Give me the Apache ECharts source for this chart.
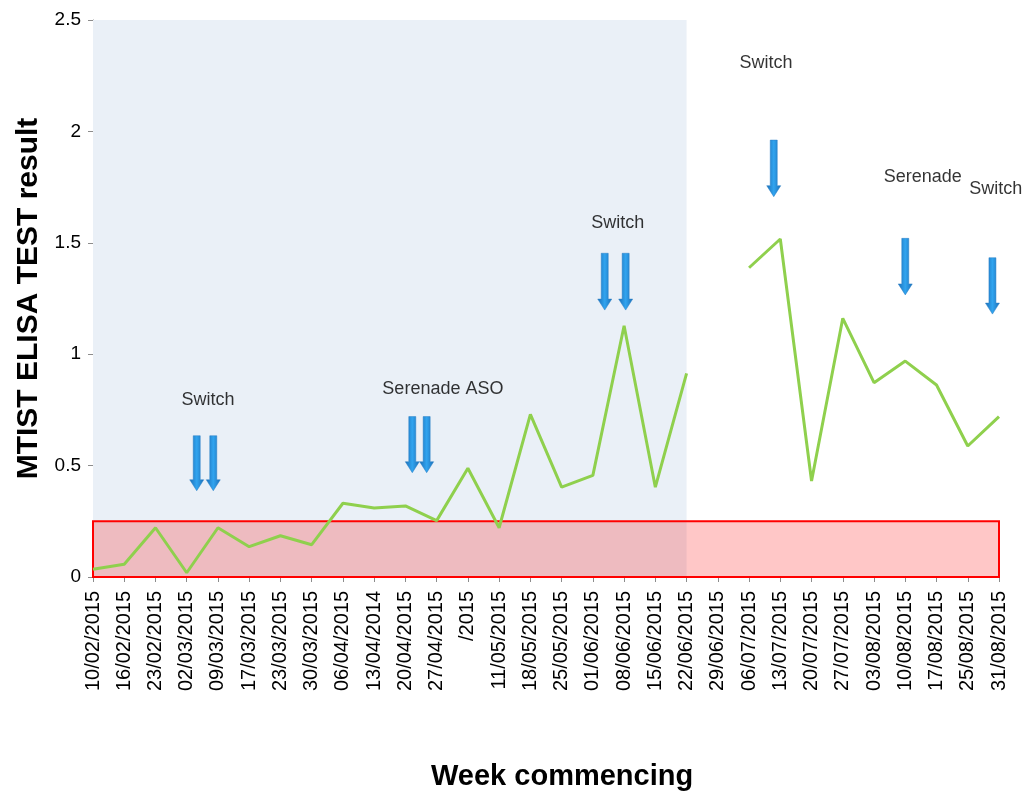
<!DOCTYPE html>
<html lang="en">
<head>
    <meta charset="UTF-8">
    <title>MTIST ELISA TEST result</title>
    <script src="https://cdn.jsdelivr.net/npm/echarts@6/dist/echarts.min.js"></script>
    <style>
        html, body { margin: 0; padding: 0; background: #fff; }
    </style>
</head>
<body>
<div id="box" style="width: 1025px;height: 791px;"></div>

<script>
    // week labels on the x axis
    var weeks = ["10/02/2015", "16/02/2015", "23/02/2015", "02/03/2015", "09/03/2015", "17/03/2015",
        "23/03/2015", "30/03/2015", "06/04/2015", "13/04/2014", "20/04/2015", "27/04/2015", "/2015",
        "11/05/2015", "18/05/2015", "25/05/2015", "01/06/2015", "08/06/2015", "15/06/2015", "22/06/2015",
        "29/06/2015", "06/07/2015", "13/07/2015", "20/07/2015", "27/07/2015", "03/08/2015", "10/08/2015",
        "17/08/2015", "25/08/2015", "31/08/2015"];
    // test results, null = no sample that week
    var results = [0.035, 0.057, 0.221, 0.019, 0.221, 0.136, 0.185, 0.145, 0.331, 0.31, 0.319, 0.253,
        0.488, 0.221, 0.73, 0.403, 0.456, 1.128, 0.403, 0.914, null, 1.388, 1.517, 0.431, 1.161,
        0.872, 0.969, 0.862, 0.588, 0.72];
    var yTicks = [0, 0.5, 1, 1.5, 2, 2.5];

    // shaded period (week index) and threshold band
    var shadedWeeks = [0, 19];
    var thresholdBand = [0, 0.25];

    // arrows: week position, top value, tip value
    var arrowX = [3.32, 3.85, 10.22, 10.68, 16.38, 17.05, 21.79, 26.0, 28.79];
    var arrowTop = [0.634, 0.634, 0.72, 0.72, 1.453, 1.453, 1.961, 1.52, 1.433];
    var arrowTip = [0.387, 0.387, 0.468, 0.468, 1.198, 1.198, 1.707, 1.266, 1.18];

    // notes above the arrows
    var noteText = ["Switch", "Serenade ASO", "Switch", "Switch", "Serenade", "Switch"];
    var noteX = [3.68, 11.2, 16.8, 21.54, 26.56, 28.9];
    var noteY = [0.794, 0.844, 1.589, 2.307, 1.795, 1.741];

    var font = "'Liberation Sans', Arial, sans-serif";

    var lineData = results.map(function (v, i) { return [i, v == null ? '-' : v]; });
    var arrowData = arrowX.map(function (x, i) { return [x, arrowTop[i], arrowTip[i]]; });
    var noteData = noteX.map(function (x, i) { return { name: noteText[i], value: [x, noteY[i]] }; });

    var myChart = echarts.init(document.getElementById("box"));
    var option = {
        animation: false,
        backgroundColor: '#ffffff',
        textStyle: { fontFamily: font },
        title: {
            text: 'Week commencing',
            left: 426,
            top: 757,
            textStyle: { fontFamily: font, fontSize: 29, fontWeight: 'bold', color: '#000' }
        },
        grid: { left: 93, right: 26, top: 20, bottom: 214, outerBoundsMode: 'none', containLabel: false },
        xAxis: {
            type: 'value',
            min: 0,
            max: weeks.length - 1,
            interval: 1,
            splitLine: { show: false },
            axisLine: { show: true, lineStyle: { color: '#8c8c8c', width: 1 } },
            axisTick: { show: true, length: 5, lineStyle: { color: '#8c8c8c' } },
            axisLabel: {
                rotate: 90,
                margin: 14,
                fontSize: 20,
                color: '#000',
                fontFamily: font,
                showMinLabel: true,
                showMaxLabel: true,
                formatter: function (v) { return weeks[v] || ''; }
            }
        },
        yAxis: {
            type: 'value',
            min: yTicks[0],
            max: yTicks[yTicks.length - 1],
            interval: 0.5,
            name: 'MTIST ELISA TEST result',
            nameLocation: 'middle',
            nameGap: 47,
            nameTextStyle: { fontFamily: font, fontSize: 30, fontWeight: 'bold', color: '#000' },
            splitLine: { show: false },
            axisLine: { show: true, lineStyle: { color: '#8c8c8c', width: 1 } },
            axisTick: { show: true, length: 5, lineStyle: { color: '#8c8c8c' } },
            axisLabel: { fontSize: 19, color: '#000', fontFamily: font, margin: 12 }
        },
        series: [
            {
                // blue shaded period, under the line
                type: 'line',
                data: [],
                z: 1,
                silent: true,
                markArea: {
                    silent: true,
                    itemStyle: { color: '#eaf0f7' },
                    data: [[{ xAxis: shadedWeeks[0], yAxis: yTicks[0] },
                        { xAxis: shadedWeeks[1], yAxis: yTicks[yTicks.length - 1] }]]
                }
            },
            {
                name: 'MTIST',
                type: 'line',
                data: lineData,
                z: 2,
                showSymbol: false,
                connectNulls: false,
                lineStyle: { color: '#8fd04d', width: 3 },
                itemStyle: { color: '#8fd04d' }
            },
            {
                // red threshold band, over the line
                type: 'line',
                data: [],
                z: 5,
                silent: true,
                markArea: {
                    silent: true,
                    itemStyle: {
                        color: 'rgba(255, 0, 0, 0.22)',
                        borderColor: '#ff0000',
                        borderWidth: 2
                    },
                    data: [[{ xAxis: 0, yAxis: thresholdBand[0] },
                        { xAxis: weeks.length - 1, yAxis: thresholdBand[1] }]]
                }
            },
            {
                // arrows
                type: 'custom',
                z: 6,
                silent: true,
                data: arrowData,
                renderItem: function (params, api) {
                    var top = api.coord([api.value(0), api.value(1)]);
                    var tip = api.coord([api.value(0), api.value(2)]);
                    var x = top[0];
                    var hw = 3.5, headW = 7, headH = 11;
                    var yh = tip[1] - headH;
                    return {
                        type: 'polygon',
                        shape: {
                            points: [[x - hw, top[1]], [x + hw, top[1]], [x + hw, yh], [x + headW, yh],
                                [x, tip[1]], [x - headW, yh], [x - hw, yh]]
                        },
                        style: {
                            fill: new echarts.graphic.LinearGradient(0, 0, 1, 0, [
                                { offset: 0, color: '#1b6fb8' },
                                { offset: 0.5, color: '#31a4ef' },
                                { offset: 1, color: '#1b6fb8' }
                            ]),
                            stroke: '#2a7fc4',
                            lineWidth: 0.5
                        }
                    };
                }
            },
            {
                // notes
                type: 'scatter',
                z: 7,
                silent: true,
                symbolSize: 0,
                data: noteData,
                label: {
                    show: true,
                    position: 'inside',
                    formatter: '{b}',
                    fontSize: 18,
                    color: '#000',
                    fontFamily: font
                }
            }
        ]
    };
    myChart.setOption(option);
</script>
</body>
</html>
